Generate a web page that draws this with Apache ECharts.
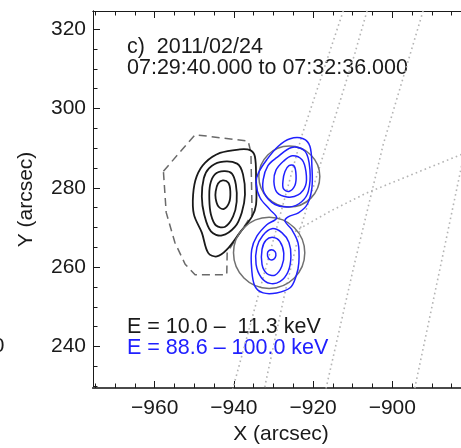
<!DOCTYPE html>
<html>
<head>
<meta charset="utf-8">
<script src="https://cdn.jsdelivr.net/npm/echarts@6/dist/echarts.min.js"></script>
<style>
  html, body { margin: 0; padding: 0; background: #fff; }
  #chart { width: 461px; height: 448px; }
</style>
</head>
<body>
<div id="chart"></div>
<script>
// Field of view (arcsec)
const X_RANGE = [-975.58, -880.63];
const Y_RANGE = [229.51, 324.61];

// Tick values
const X_MAJOR = [-960, -940, -920, -900];
const X_MINOR = [-975, -970, -965, -955, -950, -945, -935, -930, -925, -915, -910, -905, -895, -890, -885];
const Y_MAJOR = [240, 260, 280, 300, 320];
const Y_MINOR = [230, 235, 245, 250, 255, 265, 270, 275, 285, 290, 295, 305, 310, 315];

// Annotation text
const PANEL_TAG = 'c)  2011/02/24';
const TIME_RANGE = '07:29:40.000 to 07:32:36.000';
const LOW_BAND = 'E = 10.0 \u2013  11.3 keV';
const HIGH_BAND = 'E = 88.6 \u2013 100.0 keV';

// 10.0 - 11.3 keV contours, outer to inner [x, y] arcsec
const lowE1 = [[-949.4, 282.9], [-947.3, 286.3], [-943.5, 288.8], [-938.5, 289.7], [-935.9, 289.5],
  [-934.7, 287.9], [-934.4, 282.1], [-934.4, 275.8], [-935.4, 272.8], [-938.5, 268.7],
  [-941.8, 264.4], [-944.3, 262.7], [-946.5, 263.6], [-948.1, 268.7], [-950.1, 273.3], [-950.3, 278.3]];
const lowE2 = [[-947.6, 282.4], [-946.3, 284.9], [-943.5, 286.5], [-939.2, 286.1], [-937.7, 283.4],
  [-937.2, 278.3], [-938.0, 273.8], [-939.7, 270.2], [-943.0, 268.0], [-945.8, 269.0],
  [-947.5, 273.3], [-948.1, 277.8]];
const lowE3 = [[-946.0, 280.8], [-944.8, 283.4], [-942.5, 284.2], [-940.5, 283.6], [-939.5, 280.8],
  [-939.3, 276.5], [-940.2, 272.8], [-942.2, 270.2], [-944.5, 270.5], [-945.8, 273.3], [-946.2, 277.0]];
const lowE4 = [[-944.6, 279.1], [-944.0, 281.1], [-942.8, 281.9], [-941.4, 281.3], [-940.9, 279.1],
  [-941.2, 276.3], [-942.5, 274.7], [-943.9, 275.3], [-944.6, 277.3]];
// Dashed outline around the thermal source
const lowEOutline = [[-957.8, 284.2], [-949.8, 293.4], [-936.4, 291.8], [-935.7, 288.9], [-935.4, 273.3],
  [-941.7, 263.7], [-941.8, 258.1], [-949.8, 258.1], [-952.3, 260.7], [-954.9, 266.2], [-957.1, 273.8]];

// 88.6 - 100.0 keV contours: one outer level enclosing both footpoints
const highE1 = [[-929.2, 272.4], [-930.9, 274.5], [-933.4, 277.5], [-934.4, 281.3], [-933.8, 283.8],
  [-931.7, 287.1], [-928.8, 290.5], [-925.8, 292.4], [-922.5, 292.4], [-920.8, 290.5],
  [-920.3, 285.4], [-920.3, 280.0], [-921.5, 275.8], [-923.7, 273.7], [-926.3, 272.7],
  [-927.1, 271.6], [-925.4, 269.5], [-923.8, 266.1], [-923.6, 261.1], [-924.3, 257.7],
  [-925.8, 254.8], [-929.2, 253.5], [-932.6, 253.5], [-934.7, 255.2], [-935.5, 259.4],
  [-935.5, 264.4], [-934.2, 267.8], [-931.7, 270.7]];
const highUpper2 = [[-929.2, 287.6], [-925.4, 290.2], [-922.0, 289.2], [-920.8, 284.6], [-921.2, 279.1],
  [-922.9, 276.5], [-925.8, 275.2], [-929.6, 275.8], [-932.4, 278.8], [-932.6, 282.1], [-931.4, 285.6]];
const highUpper3 = [[-927.5, 286.7], [-925.3, 288.1], [-922.8, 287.1], [-921.8, 284.1], [-921.9, 280.6],
  [-923.8, 278.2], [-926.6, 277.7], [-929.1, 278.8], [-929.9, 281.6], [-929.4, 284.4]];
const highUpper4 = [[-926.1, 285.6], [-924.8, 285.5], [-924.3, 283.1], [-924.6, 280.6], [-926.1, 279.1],
  [-927.5, 279.8], [-927.6, 281.8], [-927.1, 284.1]];
const highLower2 = [[-930.4, 269.7], [-927.9, 268.7], [-926.1, 266.2], [-925.6, 262.7], [-926.3, 258.9],
  [-928.3, 256.4], [-930.9, 255.9], [-933.1, 257.4], [-934.4, 260.7], [-934.2, 265.0], [-932.7, 268.0]];
const highLower3 = [[-930.1, 267.5], [-928.4, 266.5], [-927.4, 263.5], [-927.9, 260.2], [-929.6, 258.0],
  [-931.7, 258.4], [-932.9, 260.7], [-932.9, 264.5], [-931.9, 266.8]];
const highLower4 = [[-930.5, 264.4], [-929.6, 263.9], [-929.4, 262.9], [-929.9, 262.0], [-930.9, 261.9],
  [-931.5, 262.8], [-931.4, 263.9]];

// Footpoint circles [x, y, radius] arcsec
const circles = [[-926.0, 282.85, 7.7], [-931.1, 263.6, 9.0]];

// Heliographic grid lines
const gridA = [[-911.6, 327], [-922.9, 293.0], [-930.8, 264.0], [-940.2, 229.6], [-940.8, 227]];
const gridB = [[-905.7, 327], [-909.4, 314.1], [-916.6, 290.9], [-923.3, 269.5], [-927.1, 253.6], [-932.1, 230.3], [-932.5, 227]];
const gridC = [[-891.5, 327], [-892.2, 324.7], [-902.3, 290.9], [-909.8, 259.8], [-916.6, 230.0], [-917.2, 227]];
const gridD = [[-880.5, 295], [-882.7, 284.6], [-887.2, 263.2], [-894.3, 229.6], [-894.9, 227]];
const gridE = [[-879.0, 289.5], [-882.6, 288.4], [-906.5, 278.7], [-915.7, 274.1], [-922.9, 270.0], [-925.0, 268.7]];

const FONT = '"Liberation Sans", Arial, Helvetica, sans-serif';
const BLACK = '#1a1a1a';
const BLUE = '#2020ff';
const GREY = '#707070';

const chart = echarts.init(document.getElementById('chart'), null, { renderer: 'canvas' });

const minus = v => String(v).replace('-', '\u2212');

function xAxisDef(position, values, len, withLabel) {
  return {
    type: 'value', position, min: X_RANGE[0], max: X_RANGE[1],
    axisLine: { show: true, onZero: false, lineStyle: { color: position === 'bottom' ? '#4a4a4a' : BLACK, width: position === 'bottom' ? 1.8 : 1 } },
    axisTick: { show: true, inside: true, length: len, customValues: values, lineStyle: { color: BLACK, width: 1 } },
    axisLabel: withLabel
      ? { show: true, customValues: values, formatter: minus, fontSize: 21, fontFamily: FONT, color: BLACK, margin: 10 }
      : { show: false },
    splitLine: { show: false },
    name: withLabel ? 'X (arcsec)' : '',
    nameLocation: 'middle', nameGap: 35,
    nameTextStyle: { fontSize: 21, fontFamily: FONT, color: BLACK }
  };
}

function yAxisDef(values, len, withLabel) {
  return {
    type: 'value', position: 'left', min: Y_RANGE[0], max: Y_RANGE[1],
    axisLine: { show: true, onZero: false, lineStyle: { color: BLACK, width: 1 } },
    axisTick: { show: true, inside: true, length: len, customValues: values, lineStyle: { color: BLACK, width: 1 } },
    axisLabel: withLabel
      ? { show: true, customValues: values, fontSize: 21, fontFamily: FONT, color: BLACK, margin: 7 }
      : { show: false },
    splitLine: { show: false },
    name: withLabel ? 'Y (arcsec)' : '',
    nameLocation: 'middle', nameGap: 56,
    nameTextStyle: { fontSize: 21, fontFamily: FONT, color: BLACK }
  };
}

function contour(pts, stroke, width, dash, smooth, z) {
  return {
    type: 'custom', coordinateSystem: 'cartesian2d', xAxisIndex: 0, yAxisIndex: 0,
    data: pts, encode: { x: 0, y: 1 }, silent: true, z,
    renderItem(params, api) {
      if (params.dataIndex !== 0) return null;
      const points = pts.map(p => api.coord(p));
      return {
        type: 'polygon',
        shape: { points, smooth },
        style: { fill: 'none', stroke, lineWidth: width, lineDash: dash }
      };
    }
  };
}

function gridLine(pts) {
  return {
    type: 'line', xAxisIndex: 0, yAxisIndex: 0, data: pts, showSymbol: false, silent: true,
    smooth: false, clip: true, z: 1,
    lineStyle: { color: '#b4b4b4', width: 1.6, type: [1.6, 3.2] }
  };
}

const series = [
  gridLine(gridA), gridLine(gridB), gridLine(gridC), gridLine(gridD), gridLine(gridE),
  contour(lowEOutline, '#6a6a6a', 1.5, [8, 5], 0, 2),
  contour(lowE1, BLACK, 1.8, null, 0.35, 3),
  contour(lowE2, BLACK, 1.8, null, 0.35, 3),
  contour(lowE3, BLACK, 1.8, null, 0.35, 3),
  contour(lowE4, BLACK, 1.8, null, 0.35, 3),
  {
    type: 'custom', coordinateSystem: 'cartesian2d', xAxisIndex: 0, yAxisIndex: 0,
    data: circles, encode: { x: 0, y: 1 }, silent: true, z: 4,
    renderItem(params, api) {
      const c = api.coord([api.value(0), api.value(1)]);
      const r = api.size([api.value(2), 0])[0];
      return { type: 'circle', shape: { cx: c[0], cy: c[1], r }, style: { fill: 'none', stroke: GREY, lineWidth: 1.5 } };
    }
  },
  contour(highE1, BLUE, 1.5, null, 0.35, 5),
  contour(highUpper2, BLUE, 1.5, null, 0.35, 5),
  contour(highUpper3, BLUE, 1.5, null, 0.35, 5),
  contour(highUpper4, BLUE, 1.5, null, 0.35, 5),
  contour(highLower2, BLUE, 1.5, null, 0.35, 5),
  contour(highLower3, BLUE, 1.5, null, 0.35, 5),
  contour(highLower4, BLUE, 1.5, null, 0.35, 5)
];

const textFont = '21.5px ' + FONT;

chart.setOption({
  animation: false,
  backgroundColor: '#fff',
  grid: { left: 93, top: 11, width: 376, height: 377, outerBoundsMode: 'none', containLabel: false },
  xAxis: [
    xAxisDef('bottom', X_MAJOR, 7, true),
    xAxisDef('bottom', X_MINOR, 4.5, false),
    xAxisDef('top', X_MAJOR, 7, false),
    xAxisDef('top', X_MINOR, 4.5, false)
  ],
  yAxis: [
    yAxisDef(Y_MAJOR, 7, true),
    yAxisDef(Y_MINOR, 4.5, false)
  ],
  series,
  graphic: [
    { type: 'text', x: 127, y: 47, silent: true, style: { text: PANEL_TAG, font: textFont, fill: BLACK, align: 'left', verticalAlign: 'middle' } },
    { type: 'text', x: 127, y: 68.5, silent: true, style: { text: TIME_RANGE, font: textFont, fill: BLACK, align: 'left', verticalAlign: 'middle' } },
    { type: 'text', x: 127, y: 327.5, silent: true, style: { text: LOW_BAND, font: textFont, fill: BLACK, align: 'left', verticalAlign: 'middle' } },
    { type: 'text', x: 127, y: 348.5, silent: true, style: { text: HIGH_BAND, font: textFont, fill: BLUE, align: 'left', verticalAlign: 'middle' } },
    // edge of the neighbouring panel's tick label
    { type: 'text', x: 4.5, y: 346.7, silent: true, style: { text: '240', font: '21px ' + FONT, fill: BLACK, align: 'right', verticalAlign: 'middle' } }
  ]
});
</script>
</body>
</html>
